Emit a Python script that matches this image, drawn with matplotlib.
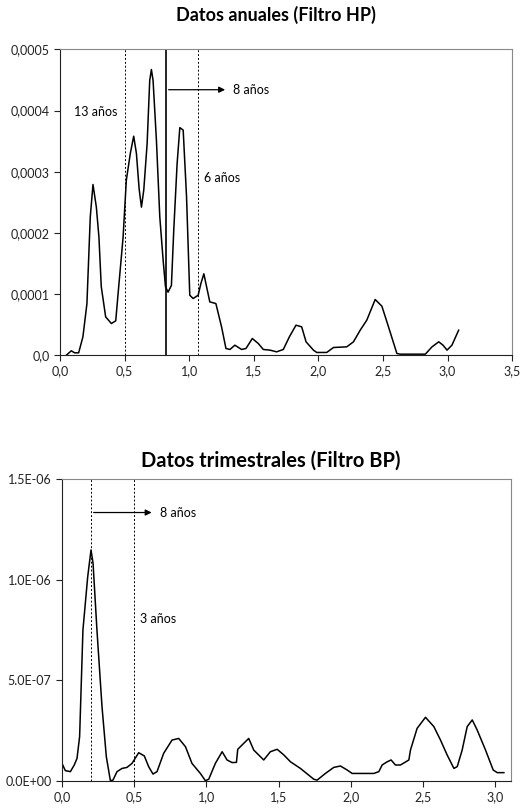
import numpy as np
import matplotlib
matplotlib.use("Agg")
from matplotlib import pyplot as plt
from matplotlib.ticker import FuncFormatter

plt.rcParams['font.family'] = ['Lato', 'DejaVu Sans']

# annual data (HP filter) - frequency vs spectrum
freq_hp = [0.05, 0.088, 0.114, 0.145, 0.178, 0.209, 0.235, 0.256, 0.282, 0.302, 0.32, 0.354,
           0.398, 0.432, 0.45, 0.489, 0.514, 0.545, 0.571, 0.592, 0.613, 0.631, 0.649, 0.675,
           0.695, 0.708, 0.721, 0.747, 0.773, 0.799, 0.817, 0.837, 0.863, 0.881, 0.907, 0.928,
           0.954, 0.98, 1.005, 1.031, 1.07, 1.091, 1.114, 1.135, 1.16, 1.207, 1.251, 1.285,
           1.316, 1.354, 1.406, 1.44, 1.489, 1.535, 1.574, 1.626, 1.677, 1.729, 1.776, 1.827,
           1.871, 1.905, 1.962, 1.988, 2.065, 2.117, 2.22, 2.272, 2.324, 2.375, 2.44, 2.492,
           2.543, 2.608, 2.634, 2.828, 2.88, 2.932, 2.965, 2.996, 3.034, 3.086]
spec_hp = [0.0, 7.1, 3.8, 3.8, 30, 84, 226, 279, 242, 193, 112, 62.6,
           51.7, 56.1, 100, 193, 286, 330, 358, 330, 272, 242, 270, 346,
           449, 467, 449, 351, 226, 155, 112, 103, 114, 204, 313, 372,
           368, 259, 98, 92.6, 98, 117, 133, 112, 87.1, 84.4, 46.3, 10.9,
           9.3, 16.3, 9.3, 10.9, 27.2, 19.1, 9.3, 8.2, 5.4, 9.3, 30, 49,
           46.3, 21.8, 8.2, 4.4, 4.4, 12.5, 13.6, 21.8, 40.8, 57.2, 91, 80,
           46.3, 2.7, 1.6, 1.6, 13.6, 21.8, 16.3, 8.2, 16.3, 40.8]
spec_hp = [v * 1e-6 for v in spec_hp]

# quarterly data (BP filter)
freq_bp = [0.0, 0.023, 0.058, 0.085, 0.104, 0.122, 0.145, 0.178, 0.201, 0.215, 0.242, 0.277,
           0.307, 0.335, 0.353, 0.381, 0.416, 0.45, 0.485, 0.531, 0.57, 0.6, 0.63, 0.658,
           0.704, 0.762, 0.808, 0.855, 0.9, 0.958, 0.993, 1.016, 1.062, 1.109, 1.143, 1.178,
           1.208, 1.217, 1.259, 1.293, 1.328, 1.397, 1.443, 1.49, 1.536, 1.582, 1.651, 1.744,
           1.767, 1.824, 1.882, 1.928, 1.975, 2.009, 2.159, 2.194, 2.217, 2.252, 2.279, 2.309,
           2.344, 2.402, 2.413, 2.459, 2.517, 2.575, 2.621, 2.667, 2.714, 2.737, 2.771, 2.806,
           2.841, 2.875, 2.933, 2.986, 3.014, 3.06]
spec_bp = [0.086, 0.05, 0.045, 0.078, 0.111, 0.219, 0.749, 1.014, 1.147, 1.081, 0.749, 0.368,
           0.119, 0.0, 0.003, 0.045, 0.061, 0.066, 0.086, 0.139, 0.123, 0.07, 0.033, 0.045,
           0.136, 0.202, 0.21, 0.169, 0.086, 0.036, 0.0, 0.007, 0.086, 0.144, 0.103, 0.09,
           0.091, 0.156, 0.186, 0.21, 0.152, 0.103, 0.144, 0.156, 0.128, 0.094, 0.061, 0.007,
           0.003, 0.036, 0.066, 0.073, 0.053, 0.036, 0.036, 0.045, 0.078, 0.094, 0.103, 0.078,
           0.078, 0.103, 0.152, 0.26, 0.315, 0.269, 0.202, 0.128, 0.061, 0.07, 0.152, 0.269,
           0.302, 0.252, 0.152, 0.053, 0.04, 0.04]
spec_bp = [v * 1e-6 for v in spec_bp]


def comma_fmt(dec):
    return FuncFormatter(lambda v, p: f"{v:.{dec}f}".replace('.', ','))


def style_axes(ax):
    for s in ax.spines.values():
        s.set_linewidth(0.8)
        s.set_color('#222222')
    ax.spines['top'].set_color('#888888')
    ax.spines['right'].set_color('#888888')
    ax.tick_params(direction='out', length=4, width=0.8, labelsize=9, colors='#222222')


fig = plt.figure(figsize=(5.21, 8.09), dpi=100)

# ---- top: annual ----
ax1 = fig.add_axes([0.115, 0.561, 0.868, 0.378])
ax1.plot(freq_hp, spec_hp, color='black', lw=1.1)
ax1.axvline(0.50, color='black', lw=0.7, ls=(0, (2, 2)))
ax1.axvline(0.82, color='black', lw=1.2)
ax1.axvline(1.07, color='black', lw=0.7, ls=(0, (2, 2)))
ax1.annotate('', xy=(1.30, 0.000434), xytext=(0.82, 0.000434),
             arrowprops=dict(arrowstyle='-|>', color='black', lw=0.9, mutation_scale=9))
ax1.text(1.34, 0.000434, '8 años', fontsize=9, va='center')
ax1.text(0.106, 0.000398, '13 años', fontsize=9, va='center')
ax1.text(1.114, 0.00029, '6 años', fontsize=9, va='center')
ax1.set_xlim(0, 3.5)
ax1.set_ylim(0, 0.0005)
ax1.set_xticks(np.arange(0, 3.51, 0.5))
ax1.set_yticks(np.arange(0, 0.00051, 0.0001))
ax1.xaxis.set_major_formatter(comma_fmt(1))
ax1.yaxis.set_major_formatter(FuncFormatter(lambda v, p: '0,0' if v == 0 else f"{v:.4f}".replace('.', ',')))
style_axes(ax1)
fig.text(0.53, 0.981, 'Datos anuales (Filtro HP)', ha='center', va='center',
         fontsize=13, fontweight='bold')

# ---- bottom: quarterly ----
ax2 = fig.add_axes([0.119, 0.035, 0.862, 0.373])
ax2.plot(freq_bp, spec_bp, color='black', lw=1.1)
ax2.axvline(0.20, color='black', lw=0.7, ls=(0, (2, 2)))
ax2.axvline(0.50, color='black', lw=0.7, ls=(0, (2, 2)))
ax2.annotate('', xy=(0.64, 1.333e-6), xytext=(0.20, 1.333e-6),
             arrowprops=dict(arrowstyle='-|>', color='black', lw=0.9, mutation_scale=9))
ax2.text(0.677, 1.333e-6, '8 años', fontsize=9, va='center')
ax2.text(0.538, 0.804e-6, '3 años', fontsize=9, va='center')
ax2.set_xlim(0, 3.11)
ax2.set_ylim(0, 1.5e-6)
ax2.set_xticks(np.arange(0, 3.01, 0.5))
ax2.set_yticks([0, 0.5e-6, 1.0e-6, 1.5e-6])
ax2.xaxis.set_major_formatter(comma_fmt(1))
ax2.yaxis.set_major_formatter(FuncFormatter(lambda v, p: f"{v:.1E}"))
style_axes(ax2)
fig.text(0.52, 0.431, 'Datos trimestrales (Filtro BP)', ha='center', va='center',
         fontsize=14.5, fontweight='bold')

fig.savefig('out.png', dpi=100)
